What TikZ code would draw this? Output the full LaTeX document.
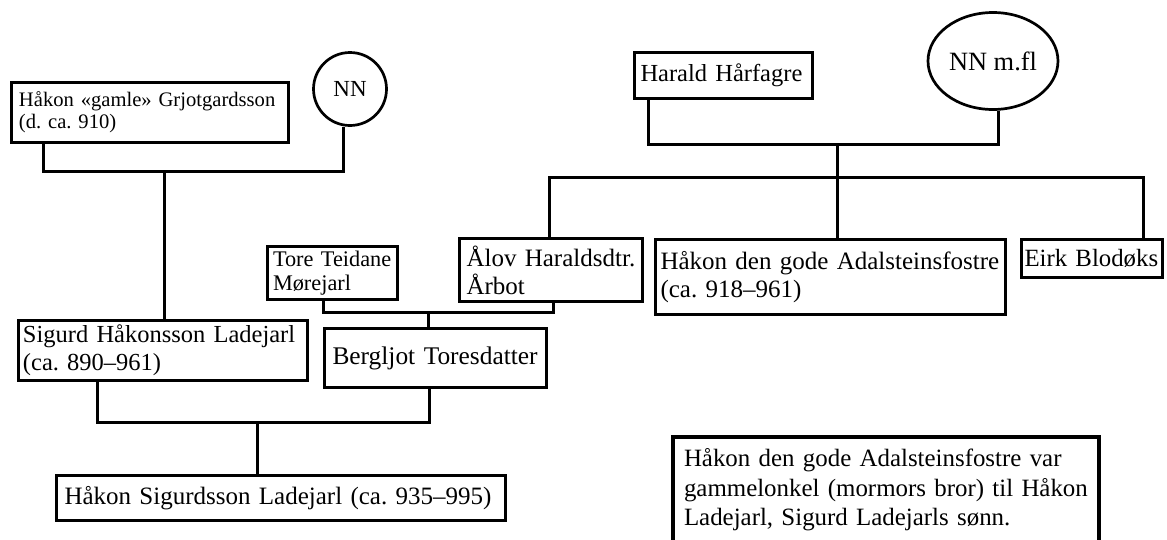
\documentclass[tikz,border=0pt]{standalone}
\usepackage{fontspec}
\setmainfont{Liberation Serif}
\usetikzlibrary{shapes.geometric}
\newcommand\fsz[2]{\fontsize{#1}{#2}\selectfont}
\tikzset{
  famb/.style={draw, line width=3pt, rectangle, anchor=north west, inner sep=0pt, align=left},
  conn/.style={draw, line width=3pt, line join=miter},
}
\begin{document}
\begin{tikzpicture}[x=1pt,y=-1pt]
\useasboundingbox (0,0) rectangle (1167,539);
\fill[white] (0,0) rectangle (1167,539);
\clip (0,0) rectangle (1167,539);

% top left
\node[famb, minimum width=277, minimum height=60, text width=262, font=\fsz{20.6}{22}] (hakon0) at (10,81)
  {\mbox{Håkon «gamle» Grjotgardsson}\\\mbox{(d.\ ca.\ 910)}};
\node[draw, circle, line width=2.7pt, minimum size=73, inner sep=0pt, font=\fsz{23}{24}] (nn1) at (350,89) {\raisebox{-6pt}{NN}};

% top right
\node[famb, minimum width=178, minimum height=46, text width=166, font=\fsz{24.5}{28}] (harald) at (633,51) {\mbox{Harald Hårfagre}};
\node[draw, ellipse, line width=2.7pt, minimum width=130, minimum height=97, inner sep=0pt, font=\fsz{26.4}{28}] (nnmfl) at (993,61) {NN m.fl};

% middle row
\node[famb, minimum width=130, minimum height=53, text width=119, font=\fsz{22.3}{24}] (tore) at (266,245) {\mbox{Tore Teidane}\\\mbox{Mørejarl}};
\node[famb, minimum width=183, minimum height=63, text width=169, font=\fsz{25}{28}] (alov) at (458,237) {\mbox{Ålov Haraldsdtr.}\\\mbox{Årbot}};
\node[famb, minimum width=350, minimum height=75, text width=340, font=\fsz{25}{27.5}] (hgode) at (654,238) {\mbox{Håkon den gode Adalsteinsfostre}\\\mbox{(ca.\ 918--961)}};
\node[famb, minimum width=141, minimum height=38, text width=135, font=\fsz{24.8}{28}] (eirk) at (1020,238) {\mbox{Eirk Blodøks}};

\node[famb, minimum width=289, minimum height=60, text width=280, font=\fsz{24.5}{28}] (sigurd) at (17,319) {\mbox{Sigurd Håkonsson Ladejarl}\\\mbox{(ca.\ 890--961)}};
\node[famb, minimum width=222, minimum height=59, text width=206, font=\fsz{25.4}{28}] (bergljot) at (323,327) {\mbox{Bergljot Toresdatter}};

\node[famb, minimum width=449, minimum height=45, text width=433, font=\fsz{25}{29}] (hsig) at (55,474) {\mbox{Håkon Sigurdsson Ladejarl (ca.\ 935--995)}};

\node[famb, line width=4pt, minimum width=426, minimum height=106, text width=404, font=\fsz{24.9}{29.5}] (note) at (671,435)
  {\mbox{Håkon den gode Adalsteinsfostre var}\\\mbox{gammelonkel (mormors bror) til Håkon}\\\mbox{Ladejarl, Sigurd Ladejarls sønn.}};

% connectors
\coordinate (jA) at (164,171);
\draw[conn] ([xshift=33]hakon0.south west) |- (jA) -| ([xshift=-7]nn1.south);
\draw[conn] (jA) -- (jA |- sigurd.north);

\coordinate (jB) at (837,144);
\coordinate (jC) at (837,177);
\draw[conn] ([xshift=15]harald.south west) |- (jB) -| ([xshift=5]nnmfl.south);
\draw[conn] (jB) -- (jC);
\draw[conn] ([xshift=91]alov.north west) |- (jC) -| ([xshift=-21]eirk.north east);
\draw[conn] (jC) -- (jC |- hgode.north);

\coordinate (jD) at (428,312);
\draw[conn] ([xshift=57]tore.south west) |- (jD) -| ([xshift=95]alov.south west);
\draw[conn] (jD) -- (jD |- bergljot.north);

\coordinate (jE) at (257,422);
\draw[conn] ([xshift=80]sigurd.south west) |- (jE) -| ([xshift=106]bergljot.south west);
\draw[conn] (jE) -- (jE |- hsig.north);
\end{tikzpicture}
\end{document}
